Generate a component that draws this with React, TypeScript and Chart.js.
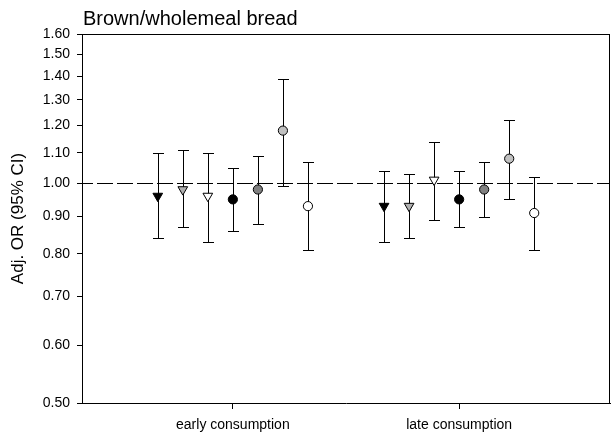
import React, { useEffect, useRef } from "react";
import { Chart, registerables } from "chart.js";

Chart.register(...registerables);

const categories = ["early consumption", "late consumption"];
const yTickValues = [0.5, 0.6, 0.7, 0.8, 0.9, 1.0, 1.1, 1.2, 1.3, 1.4, 1.5, 1.6];
const titleText = "Brown/wholemeal bread";
const yTitle = "Adj. OR (95% CI)";

// 7 series, values for [early, late]
const seriesOR = [
  [0.96, 0.93],
  [0.98, 0.93],
  [0.96, 1.01],
  [0.95, 0.95],
  [0.98, 0.98],
  [1.18, 1.08],
  [0.93, 0.91],
];
const seriesLo = [
  [0.84, 0.83],
  [0.87, 0.84],
  [0.83, 0.89],
  [0.86, 0.87],
  [0.88, 0.90],
  [0.99, 0.95],
  [0.81, 0.81],
];
const seriesHi = [
  [1.10, 1.04],
  [1.11, 1.03],
  [1.10, 1.14],
  [1.05, 1.04],
  [1.09, 1.07],
  [1.39, 1.22],
  [1.07, 1.02],
];
const seriesStyle = ["tri", "tri", "tri", "circle", "circle", "circle", "circle"];
const seriesFill = ["#000000", "#b0b0b0", "#ffffff", "#000000", "#808080", "#c0c0c0", "#ffffff"];

const OFFSET = 0.1106;

export default function App() {
  const ref = useRef<HTMLCanvasElement>(null);
  useEffect(() => {
    document.body.style.margin = "0";
    const canvas = ref.current!;
    const datasets = seriesOR.map((vals, si) => ({
      label: "s" + si,
      data: vals.map((v, gi) => ({ x: gi + 1 + (si - 3) * OFFSET, y: v })),
      pointStyle: seriesStyle[si] === "tri" ? "triangle" : "circle",
      rotation: seriesStyle[si] === "tri" ? 180 : 0,
      radius: seriesStyle[si] === "tri" ? 5.6 : 4.6,
      backgroundColor: seriesFill[si],
      borderColor: "#000000",
      borderWidth: 1,
      showLine: false,
    }));

    const errorBars = {
      id: "errorBars",
      beforeDatasetsDraw(chart: any) {
        const ctx = chart.ctx;
        const xs = chart.scales.x;
        const ys = chart.scales.y;
        const area = chart.chartArea;
        ctx.save();
        ctx.strokeStyle = "#000";
        ctx.lineWidth = 1;
        ctx.setLineDash([16, 4]);
        ctx.lineDashOffset = 5;
        const y1 = Math.round(ys.getPixelForValue(1.0)) + 0.5;
        ctx.beginPath();
        ctx.moveTo(area.left, y1);
        ctx.lineTo(area.right, y1);
        ctx.stroke();
        ctx.setLineDash([]);
        seriesOR.forEach((vals, si) => {
          vals.forEach((_, gi) => {
            const x = Math.round(xs.getPixelForValue(gi + 1 + (si - 3) * OFFSET)) + 0.5;
            const yl = Math.round(ys.getPixelForValue(seriesLo[si][gi])) + 0.5;
            const yh = Math.round(ys.getPixelForValue(seriesHi[si][gi])) + 0.5;
            ctx.beginPath();
            ctx.moveTo(x, yl);
            ctx.lineTo(x, yh);
            ctx.moveTo(x - 5.5, yl);
            ctx.lineTo(x + 5.5, yl);
            ctx.moveTo(x - 5.5, yh);
            ctx.lineTo(x + 5.5, yh);
            ctx.stroke();
          });
        });
        ctx.restore();
      },
      afterDraw(chart: any) {
        const ctx = chart.ctx;
        const area = chart.chartArea;
        ctx.save();
        ctx.strokeStyle = "#000";
        ctx.lineWidth = 1;
        ctx.beginPath();
        ctx.moveTo(area.left, area.top + 0.5);
        ctx.lineTo(area.right, area.top + 0.5);
        ctx.moveTo(area.right - 0.5, area.top);
        ctx.lineTo(area.right - 0.5, area.bottom);
        ctx.stroke();
        ctx.fillStyle = "#000";
        ctx.font = "20px 'Liberation Sans', Arial, sans-serif";
        ctx.textBaseline = "alphabetic";
        ctx.textAlign = "left";
        ctx.fillText(titleText, area.left + 1, 25);
        ctx.restore();
      },
    };

    const chart = new Chart(canvas, {
      type: "scatter",
      data: { datasets: datasets as any },
      options: {
        animation: false,
        responsive: false,
        maintainAspectRatio: false,
        layout: { autoPadding: false, padding: { top: 34, right: 2, left: 0, bottom: 0 } },
        plugins: { legend: { display: false }, tooltip: { enabled: false }, title: { display: false } },
        scales: {
          x: {
            type: "linear",
            min: 1 / 3,
            max: 8 / 3,
            afterBuildTicks: (s: any) => {
              s.ticks = categories.map((_, i) => ({ value: i + 1 }));
            },
            afterFit: (s: any) => {
              s.height = 36;
            },
            ticks: {
              callback: (v: any) => categories[Math.round(v) - 1] ?? "",
              color: "#000",
              font: { family: "'Liberation Sans', Arial, sans-serif", size: 14 },
              padding: 8,
              maxRotation: 0,
              autoSkip: false,
            },
            grid: { display: true, drawOnChartArea: false, drawTicks: true, tickLength: 6, color: "#000" },
            border: { display: true, color: "#000", width: 1 },
          },
          y: {
            type: "logarithmic",
            min: 0.5,
            max: 1.6,
            afterBuildTicks: (s: any) => {
              s.ticks = yTickValues.map((v) => ({ value: v }));
            },
            afterFit: (s: any) => {
              s.width = 82;
            },
            ticks: {
              callback: (v: any) => Number(v).toFixed(2),
              color: "#000",
              font: { family: "'Liberation Sans', Arial, sans-serif", size: 14 },
              padding: 7,
              autoSkip: false,
            },
            title: {
              display: true,
              text: yTitle,
              color: "#000",
              font: { family: "'Liberation Sans', Arial, sans-serif", size: 17 },
              padding: { top: 8, bottom: 0 },
            },
            grid: { display: true, drawOnChartArea: false, drawTicks: true, tickLength: 5, color: "#000" },
            border: { display: true, color: "#000", width: 1 },
          },
        },
      },
      plugins: [errorBars],
    });
    return () => chart.destroy();
  }, []);
  return (
    <div style={{ width: 612, height: 439 }}>
      <canvas ref={ref} width={612} height={439} style={{ width: 612, height: 439, display: "block" }} />
    </div>
  );
}
